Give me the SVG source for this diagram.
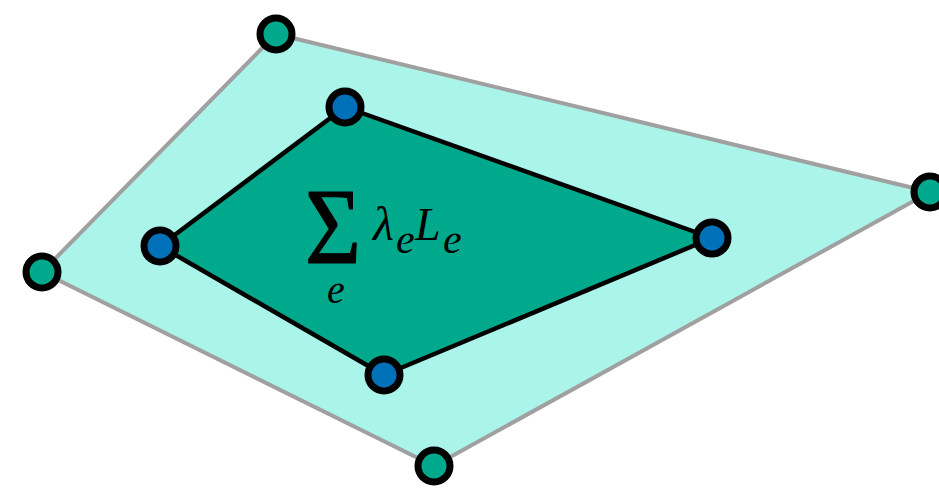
<svg xmlns="http://www.w3.org/2000/svg" width="939" height="488" viewBox="0 0 939 488">
<style>
.outer{fill:#aaf4ea;stroke:#a0a0a0;stroke-width:4;stroke-linejoin:round}
.inner{fill:#00a98b;stroke:#000;stroke-width:4.5;stroke-linejoin:round}
.on{fill:#00a98b;stroke:#000;stroke-width:7}
.in{fill:#0070b8;stroke:#000;stroke-width:7}
.t{font-family:"Liberation Serif","Times New Roman",serif;fill:#000}
.i{font-style:italic}
</style>
<g id="connectors">
<polygon class="outer" points="276,34 930,192 434,466 42,272"/>
<polygon class="inner" points="345,107 712,238 384,375 160,246"/>
</g>
<g id="formula">
<text class="t" transform="translate(305,263) scale(0.9,1)" font-size="107" stroke="#000" stroke-width="1.2">Σ</text>
<text class="t i" x="373" y="240" font-size="48">λ</text>
<text class="t i" x="396" y="253" font-size="42">e</text>
<text class="t i" x="415" y="240" font-size="46">L</text>
<text class="t i" x="443" y="253" font-size="42">e</text>
<text class="t i" x="327" y="303" font-size="40">e</text>
</g>
<g id="n1"><circle class="on" cx="276" cy="34" r="16"/></g>
<g id="n2"><circle class="on" cx="930" cy="192" r="16"/></g>
<g id="n3"><circle class="on" cx="434" cy="466" r="16"/></g>
<g id="n4"><circle class="on" cx="42" cy="272" r="16"/></g>
<g id="m1"><circle class="in" cx="345" cy="107" r="16"/></g>
<g id="m2"><circle class="in" cx="712" cy="238" r="16"/></g>
<g id="m3"><circle class="in" cx="384" cy="375" r="16"/></g>
<g id="m4"><circle class="in" cx="160" cy="246" r="16"/></g>
</svg>
